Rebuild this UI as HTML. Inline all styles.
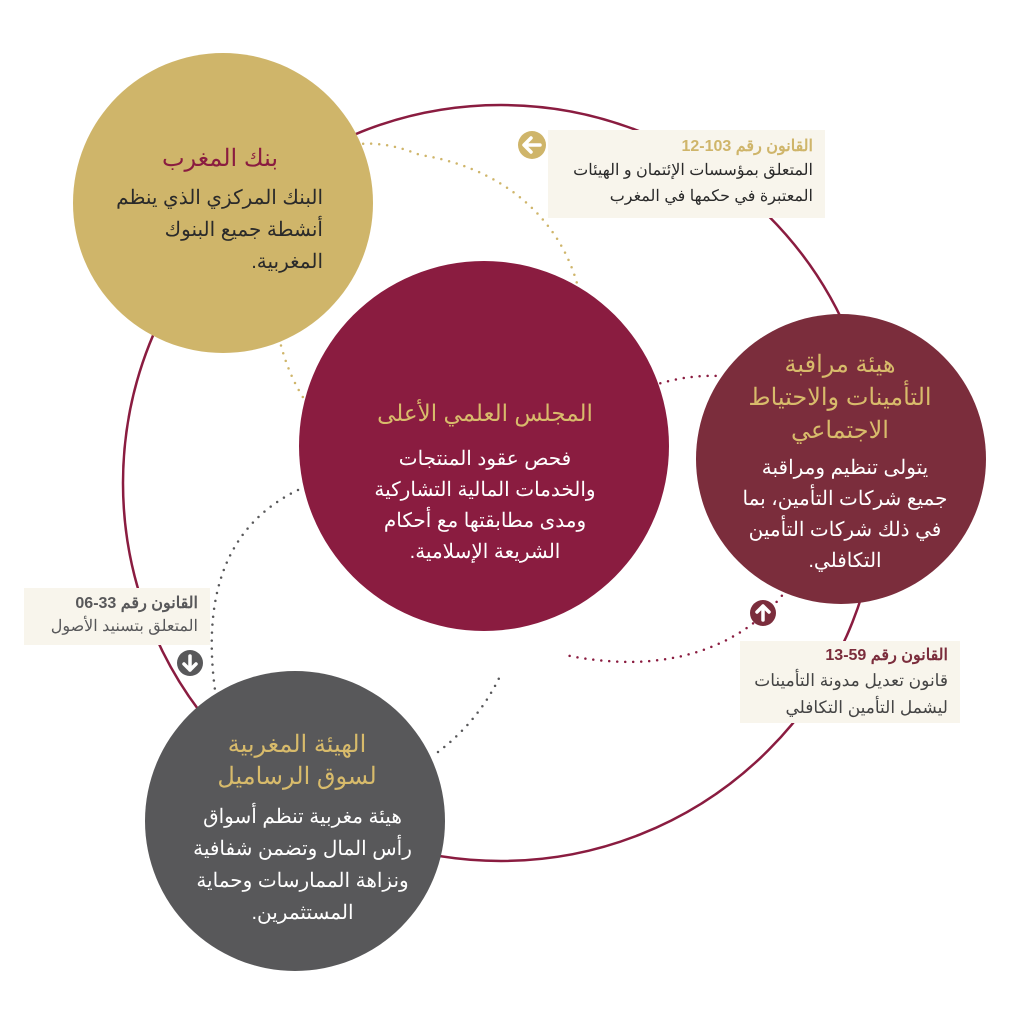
<!DOCTYPE html>
<html><head><meta charset="utf-8"><style>
body{margin:0;width:1024px;height:1024px;background:#fff;position:relative;overflow:hidden;font-family:"Liberation Sans","Noto Sans CJK SC",sans-serif;}
.t{position:absolute;direction:rtl;text-align:center;white-space:nowrap;}
.box{position:absolute;background:#f8f5ec;direction:rtl;text-align:right;padding:0 12px;box-sizing:border-box;white-space:nowrap;}
</style></head><body>
<svg width="1024" height="1024" style="position:absolute;left:0;top:0">
<circle cx="501" cy="483" r="378" fill="none" stroke="#8a1c40" stroke-width="2.5"/>
<path d="M312,410 C240,320 260,90 420,155 C520,170 575,240 582,310" fill="none" stroke="#cfb56a" stroke-width="2.5" stroke-dasharray="0 8" stroke-linecap="round"/>
<path d="M645,388 C900,300 880,720 565,655" fill="none" stroke="#8a1c40" stroke-width="2.5" stroke-dasharray="0 8" stroke-linecap="round"/>
<path d="M298,490 Q195,540 215,690" fill="none" stroke="#58585a" stroke-width="2.5" stroke-dasharray="0 8" stroke-linecap="round"/>
<path d="M438,752 Q480,720 502,672" fill="none" stroke="#58585a" stroke-width="2.5" stroke-dasharray="0 8" stroke-linecap="round"/>
<circle cx="223" cy="203" r="150" fill="#cfb56a"/>
<circle cx="484" cy="446" r="185" fill="#8a1c40"/>
<circle cx="841" cy="459" r="145" fill="#7b2d3c"/>
<circle cx="295" cy="821" r="150" fill="#58585a"/>
<circle cx="532" cy="145" r="14" fill="#cfb56a"/>
<path d="M540,145 H525 M531,138 L524,145 L531,152" stroke="#fff" stroke-width="3.5" fill="none" stroke-linecap="round" stroke-linejoin="round"/>
<circle cx="190" cy="663" r="13" fill="#58585a"/>
<path d="M190,656 V670 M184,664 L190,670 L196,664" stroke="#fff" stroke-width="3.5" fill="none" stroke-linecap="round" stroke-linejoin="round"/>
<circle cx="763" cy="613" r="13" fill="#7b2d3c"/>
<path d="M763,620 V606 M757,612 L763,606 L769,612" stroke="#fff" stroke-width="3.5" fill="none" stroke-linecap="round" stroke-linejoin="round"/>
</svg>

<div class="t" style="left:90px;top:144px;width:260px;color:#8a1c40;font-size:24px;line-height:30px;">بنك المغرب</div>
<div class="t" style="left:93px;top:182px;width:230px;color:#2a2a2a;font-size:20px;line-height:32px;text-align:right;">البنك المركزي الذي ينظم<br>أنشطة جميع البنوك<br>المغربية.</div>

<div class="t" style="left:340px;top:397px;width:290px;color:#d8bb6b;font-size:23px;line-height:32px;">المجلس العلمي الأعلى</div>
<div class="t" style="left:355px;top:444px;width:260px;color:#fff;font-size:20px;line-height:31px;">فحص عقود المنتجات<br>والخدمات المالية التشاركية<br>ومدى مطابقتها مع أحكام<br>الشريعة الإسلامية.</div>

<div class="t" style="left:720px;top:348px;width:240px;color:#d8bb6b;font-size:24px;line-height:33px;">هيئة مراقبة<br>التأمينات والاحتياط<br>الاجتماعي</div>
<div class="t" style="left:730px;top:453px;width:230px;color:#fff;font-size:20px;line-height:31px;">يتولى تنظيم ومراقبة<br>جميع شركات التأمين، بما<br>في ذلك شركات التأمين<br>التكافلي.</div>

<div class="t" style="left:172px;top:729px;width:250px;color:#d8bb6b;font-size:24px;line-height:32px;">الهيئة المغربية<br>لسوق الرساميل</div>
<div class="t" style="left:185px;top:801px;width:235px;color:#fff;font-size:20px;line-height:32px;text-align:center;">هيئة مغربية تنظم أسواق<br>رأس المال وتضمن شفافية<br>ونزاهة الممارسات وحماية<br>المستثمرين.</div>

<div class="box" style="left:548px;top:130px;width:277px;height:88px;padding-top:6px;">
<div style="color:#cfb56a;font-size:16px;font-weight:bold;line-height:22px;">القانون رقم 103-12</div>
<div style="color:#2a2a2a;font-size:16px;line-height:26px;">المتعلق بمؤسسات الإئتمان و الهيئات<br>المعتبرة في حكمها في المغرب</div>
</div>
<div class="box" style="left:24px;top:588px;width:186px;height:57px;padding-top:5px;">
<div style="color:#58585a;font-size:16px;font-weight:bold;line-height:22px;">القانون رقم 33-06</div>
<div style="color:#58585a;font-size:16px;line-height:24px;">المتعلق بتسنيد الأصول</div>
</div>
<div class="box" style="left:740px;top:641px;width:220px;height:82px;padding-top:4px;">
<div style="color:#7b2d3c;font-size:16px;font-weight:bold;line-height:22px;">القانون رقم 59-13</div>
<div style="color:#444;font-size:17px;line-height:27px;">قانون تعديل مدونة التأمينات<br>ليشمل التأمين التكافلي</div>
</div>
</body></html>
